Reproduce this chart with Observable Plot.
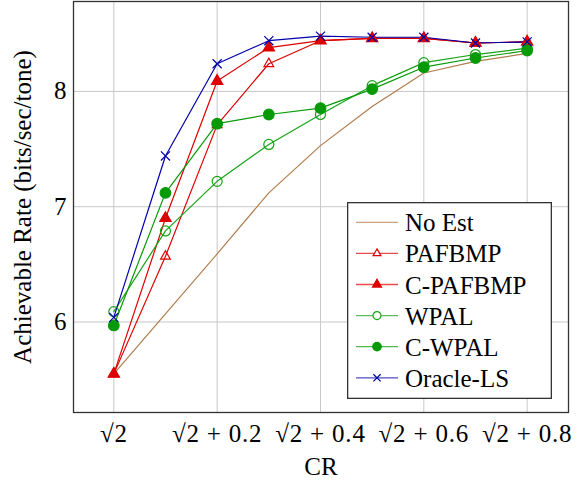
<!DOCTYPE html>
<html>
<head>
<meta charset="utf-8">
<script src="https://cdn.jsdelivr.net/npm/d3@7"></script>
<script src="https://cdn.jsdelivr.net/npm/@observablehq/plot@0.6"></script>
<style>
  html, body { margin: 0; padding: 0; background: #fff; }
  #wrap { position: relative; width: 583px; height: 490px; }
  #legend { position: absolute; left: 347px; top: 202px; }
</style>
</head>
<body>
<div id="wrap"></div>
<script>
// CR offsets from sqrt(2)
const crOffsets = [0, 0.1, 0.2, 0.3, 0.4, 0.5, 0.6, 0.7, 0.8];
const xTicks = [0, 0.2, 0.4, 0.6, 0.8];
const xTickLabels = ["√2", "√2 + 0.2", "√2 + 0.4", "√2 + 0.6", "√2 + 0.8"];
const yTicks = [6, 7, 8];

const noEst   = [5.55, 6.07, 6.59, 7.12, 7.53, 7.87, 8.16, 8.26, 8.33];
const pafbmp  = [5.55, 6.57, 7.71, 8.24, 8.44, 8.46, 8.46, 8.42, 8.43];
const cPafbmp = [5.55, 6.90, 8.09, 8.38, 8.44, 8.46, 8.46, 8.42, 8.43];
const wpal    = [6.09, 6.79, 7.22, 7.54, 7.80, 8.05, 8.25, 8.32, 8.375];
const cWpal   = [5.97, 7.12, 7.72, 7.80, 7.855, 8.02, 8.21, 8.29, 8.355];
const oracle  = [6.04, 7.44, 8.24, 8.44, 8.48, 8.47, 8.47, 8.42, 8.43];

const seriesNames = ["No Est", "PAFBMP", "C-PAFBMP", "WPAL", "C-WPAL", "Oracle-LS"];
const seriesValues = [noEst, pafbmp, cPafbmp, wpal, cWpal, oracle];

const styles = {
  "No Est":    {color: "#b07d4f", symbol: null},
  "PAFBMP":    {color: "#dd0000", symbol: "triangle", filled: false, r: 3.6},
  "C-PAFBMP":  {color: "#dd0000", symbol: "triangle", filled: true, r: 4.2},
  "WPAL":      {color: "#17a317", symbol: "circle", filled: false, r: 5},
  "C-WPAL":    {color: "#079a07", symbol: "circle", filled: true, r: 5.3},
  "Oracle-LS": {color: "#0000aa", symbol: "times", filled: false, r: 4.2}
};

const rows = [];
seriesNames.forEach((name, i) => {
  seriesValues[i].forEach((v, j) => rows.push({series: name, x: crOffsets[j], y: v}));
});

const font = "Liberation Serif, serif";
const fs = 25;

const marks = [
  Plot.gridX(xTicks, {stroke: "#c8c8c8", strokeOpacity: 1, strokeWidth: 1}),
  Plot.gridY(yTicks, {stroke: "#c8c8c8", strokeOpacity: 1, strokeWidth: 1}),
];

seriesNames.forEach(name => {
  const st = styles[name];
  const data = rows.filter(d => d.series === name);
  marks.push(Plot.line(data, {x: "x", y: "y", stroke: st.color, strokeWidth: 1.2}));
});
seriesNames.forEach(name => {
  const st = styles[name];
  if (!st.symbol) return;
  const data = rows.filter(d => d.series === name);
  marks.push(Plot.dot(data, {
    x: "x", y: "y", symbol: () => st.symbol, r: st.r,
    stroke: st.color,
    fill: st.filled ? st.color : "none",
    strokeWidth: 1.2
  }));
});

marks.push(Plot.frame({stroke: "#333", strokeWidth: 1.3}));
marks.push(Plot.axisX(xTicks, {
  tickSize: 0, tickPadding: 12,
  tickFormat: (d) => xTickLabels[xTicks.indexOf(d)],
  fontSize: fs, fontFamily: font, label: "CR", labelAnchor: "center", labelArrow: "none", labelOffset: 62,
  className: "xax"
}));
marks.push(Plot.axisY(yTicks, {
  tickSize: 0, tickPadding: 7, fontSize: fs, fontFamily: font,
  tickFormat: d3.format("d"),
  label: "Achievable Rate (bits/sec/tone)", labelAnchor: "center", labelArrow: "none", labelOffset: 60
}));

const chart = Plot.plot({
  width: 583,
  height: 490,
  marginLeft: 73,
  marginRight: 15,
  marginTop: 1,
  marginBottom: 78,
  style: {fontSize: fs + "px", color: "#000", background: "#fff"},
  x: {domain: [-0.078, 0.88]},
  y: {domain: [5.215, 8.78]},
  symbol: {type: "identity"},
  marks
});

d3.select(chart).attr("font-family", font);
d3.select(chart).selectAll("g").filter(function() { return this.hasAttribute("font-family"); })
  .attr("font-family", font);
d3.select(chart).selectAll("text").attr("font-family", font).attr("fill", "#000");
// slightly wider tick labels, like the reference's math typesetting
d3.select(chart).selectAll("text").filter(function() { return xTickLabels.includes(this.textContent); })
  .attr("letter-spacing", "0.8");

const wrap = document.getElementById("wrap");
wrap.appendChild(chart);

// Legend
const lw = 205, lh = 197, rowH = 31.1, firstRow = 20.3;
const leg = d3.create("svg").attr("id", "legend").attr("width", lw).attr("height", lh);
leg.append("rect").attr("x", 0.65).attr("y", 0.65).attr("width", lw - 1.3).attr("height", lh - 1.3)
  .attr("fill", "#fff").attr("stroke", "#333").attr("stroke-width", 1.3);
const symMap = {triangle: d3.symbolTriangle, circle: d3.symbolCircle, times: d3.symbolTimes};
seriesNames.forEach((name, i) => {
  const st = styles[name];
  const cy = firstRow + i * rowH;
  const g = leg.append("g");
  g.append("line").attr("x1", 9).attr("x2", 51).attr("y1", cy).attr("y2", cy)
    .attr("stroke", st.color).attr("stroke-width", 1.3).attr("stroke-opacity", 0.7);
  if (st.symbol) {
    const size = Math.PI * (st.r * 0.8) ** 2;
    g.append("path").attr("transform", `translate(30,${cy})`)
      .attr("d", d3.symbol(symMap[st.symbol], size)())
      .attr("fill", st.filled ? st.color : "#fff")
      .attr("stroke", st.color).attr("stroke-width", 1.2);
  }
  g.append("text").attr("x", 58).attr("y", cy).attr("dy", "0.36em")
    .attr("font-family", font).attr("font-size", fs).attr("fill", "#000").text(name);
});
wrap.appendChild(leg.node());
</script>
</body>
</html>
